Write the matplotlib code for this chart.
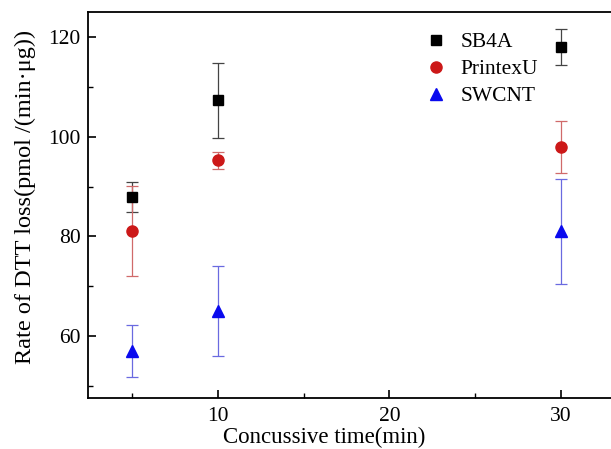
import matplotlib
matplotlib.use("Agg")
import matplotlib.pyplot as plt
from matplotlib.ticker import MultipleLocator

plt.rcParams['font.family'] = ['Liberation Serif', 'DejaVu Serif']
plt.rcParams['mathtext.fontset'] = 'stix'

times = [5, 10, 30]
sb4a = [88.0, 107.3, 118.0]
sb4a_err = [3.0, 7.5, 3.6]
printexu = [81.1, 95.3, 98.0]
printexu_err = [9.0, 1.7, 5.2]
swcnt = [57.0, 65.0, 81.0]
swcnt_err = [5.2, 9.0, 10.5]

fig = plt.figure(figsize=(6.11, 4.49), dpi=100)
W, H = 611, 449
left_px, right_px, top_px, bot_px = 87.5, 629.7, 12.3, 398.3
aw, ah = right_px - left_px, bot_px - top_px
ax = fig.add_axes([left_px / W, 1 - bot_px / H, aw / W, ah / H])

ax.errorbar(times, sb4a, yerr=sb4a_err, fmt='s', color='black', ecolor='#444444',
            markersize=7, capsize=4, elinewidth=0.9, capthick=0.9, linestyle='none', label='SB4A')
ax.errorbar(times, printexu, yerr=printexu_err, fmt='o', color='#cc1818', ecolor='#d06a6a',
            markersize=8, capsize=4, elinewidth=0.9, capthick=0.9, linestyle='none', label='PrintexU')
ax.errorbar(times, swcnt, yerr=swcnt_err, fmt='^', color='#0a0aee', ecolor='#6a6ae0',
            markersize=9, capsize=4, elinewidth=0.9, capthick=0.9, linestyle='none', label='SWCNT')

ax.set_xlim(2.4, 34)
ax.set_ylim(47.5, 125)
ax.xaxis.set_major_locator(MultipleLocator(10))
ax.xaxis.set_minor_locator(MultipleLocator(5))
ax.yaxis.set_major_locator(MultipleLocator(20))
ax.yaxis.set_minor_locator(MultipleLocator(10))
ax.set_xticks([10, 20, 30])
ax.tick_params(which='major', direction='in', length=6, width=1.2, labelsize=15.5)
ax.tick_params(which='minor', direction='in', length=3.5, width=1.0)
ax.tick_params(axis='x', which='major', pad=6)
ax.tick_params(axis='y', which='major', pad=5)
for s in ax.spines.values():
    s.set_linewidth(1.3)

ax.set_xlabel('Concussive time(min)', fontsize=16.5, va='bottom')
ax.xaxis.set_label_coords((324 - left_px) / aw, -(448 - bot_px) / ah)
ax.set_ylabel('Rate of DTT loss(pmol /(min·μg))', fontsize=17.5, va='center')
ax.yaxis.set_label_coords(-(left_px - 25) / aw, 1 - (197 - top_px) / ah)

handles, labels = ax.get_legend_handles_labels()
handles = [h[0] for h in handles]
leg = ax.legend(handles, labels, loc='upper left',
                bbox_to_anchor=((423 - left_px) / aw, 1 - (32 - top_px) / ah),
                frameon=False, fontsize=15.5, handletextpad=0.55, labelspacing=0.33,
                handlelength=1.2, borderaxespad=0, borderpad=0)

fig.savefig('out.png', dpi=100)
